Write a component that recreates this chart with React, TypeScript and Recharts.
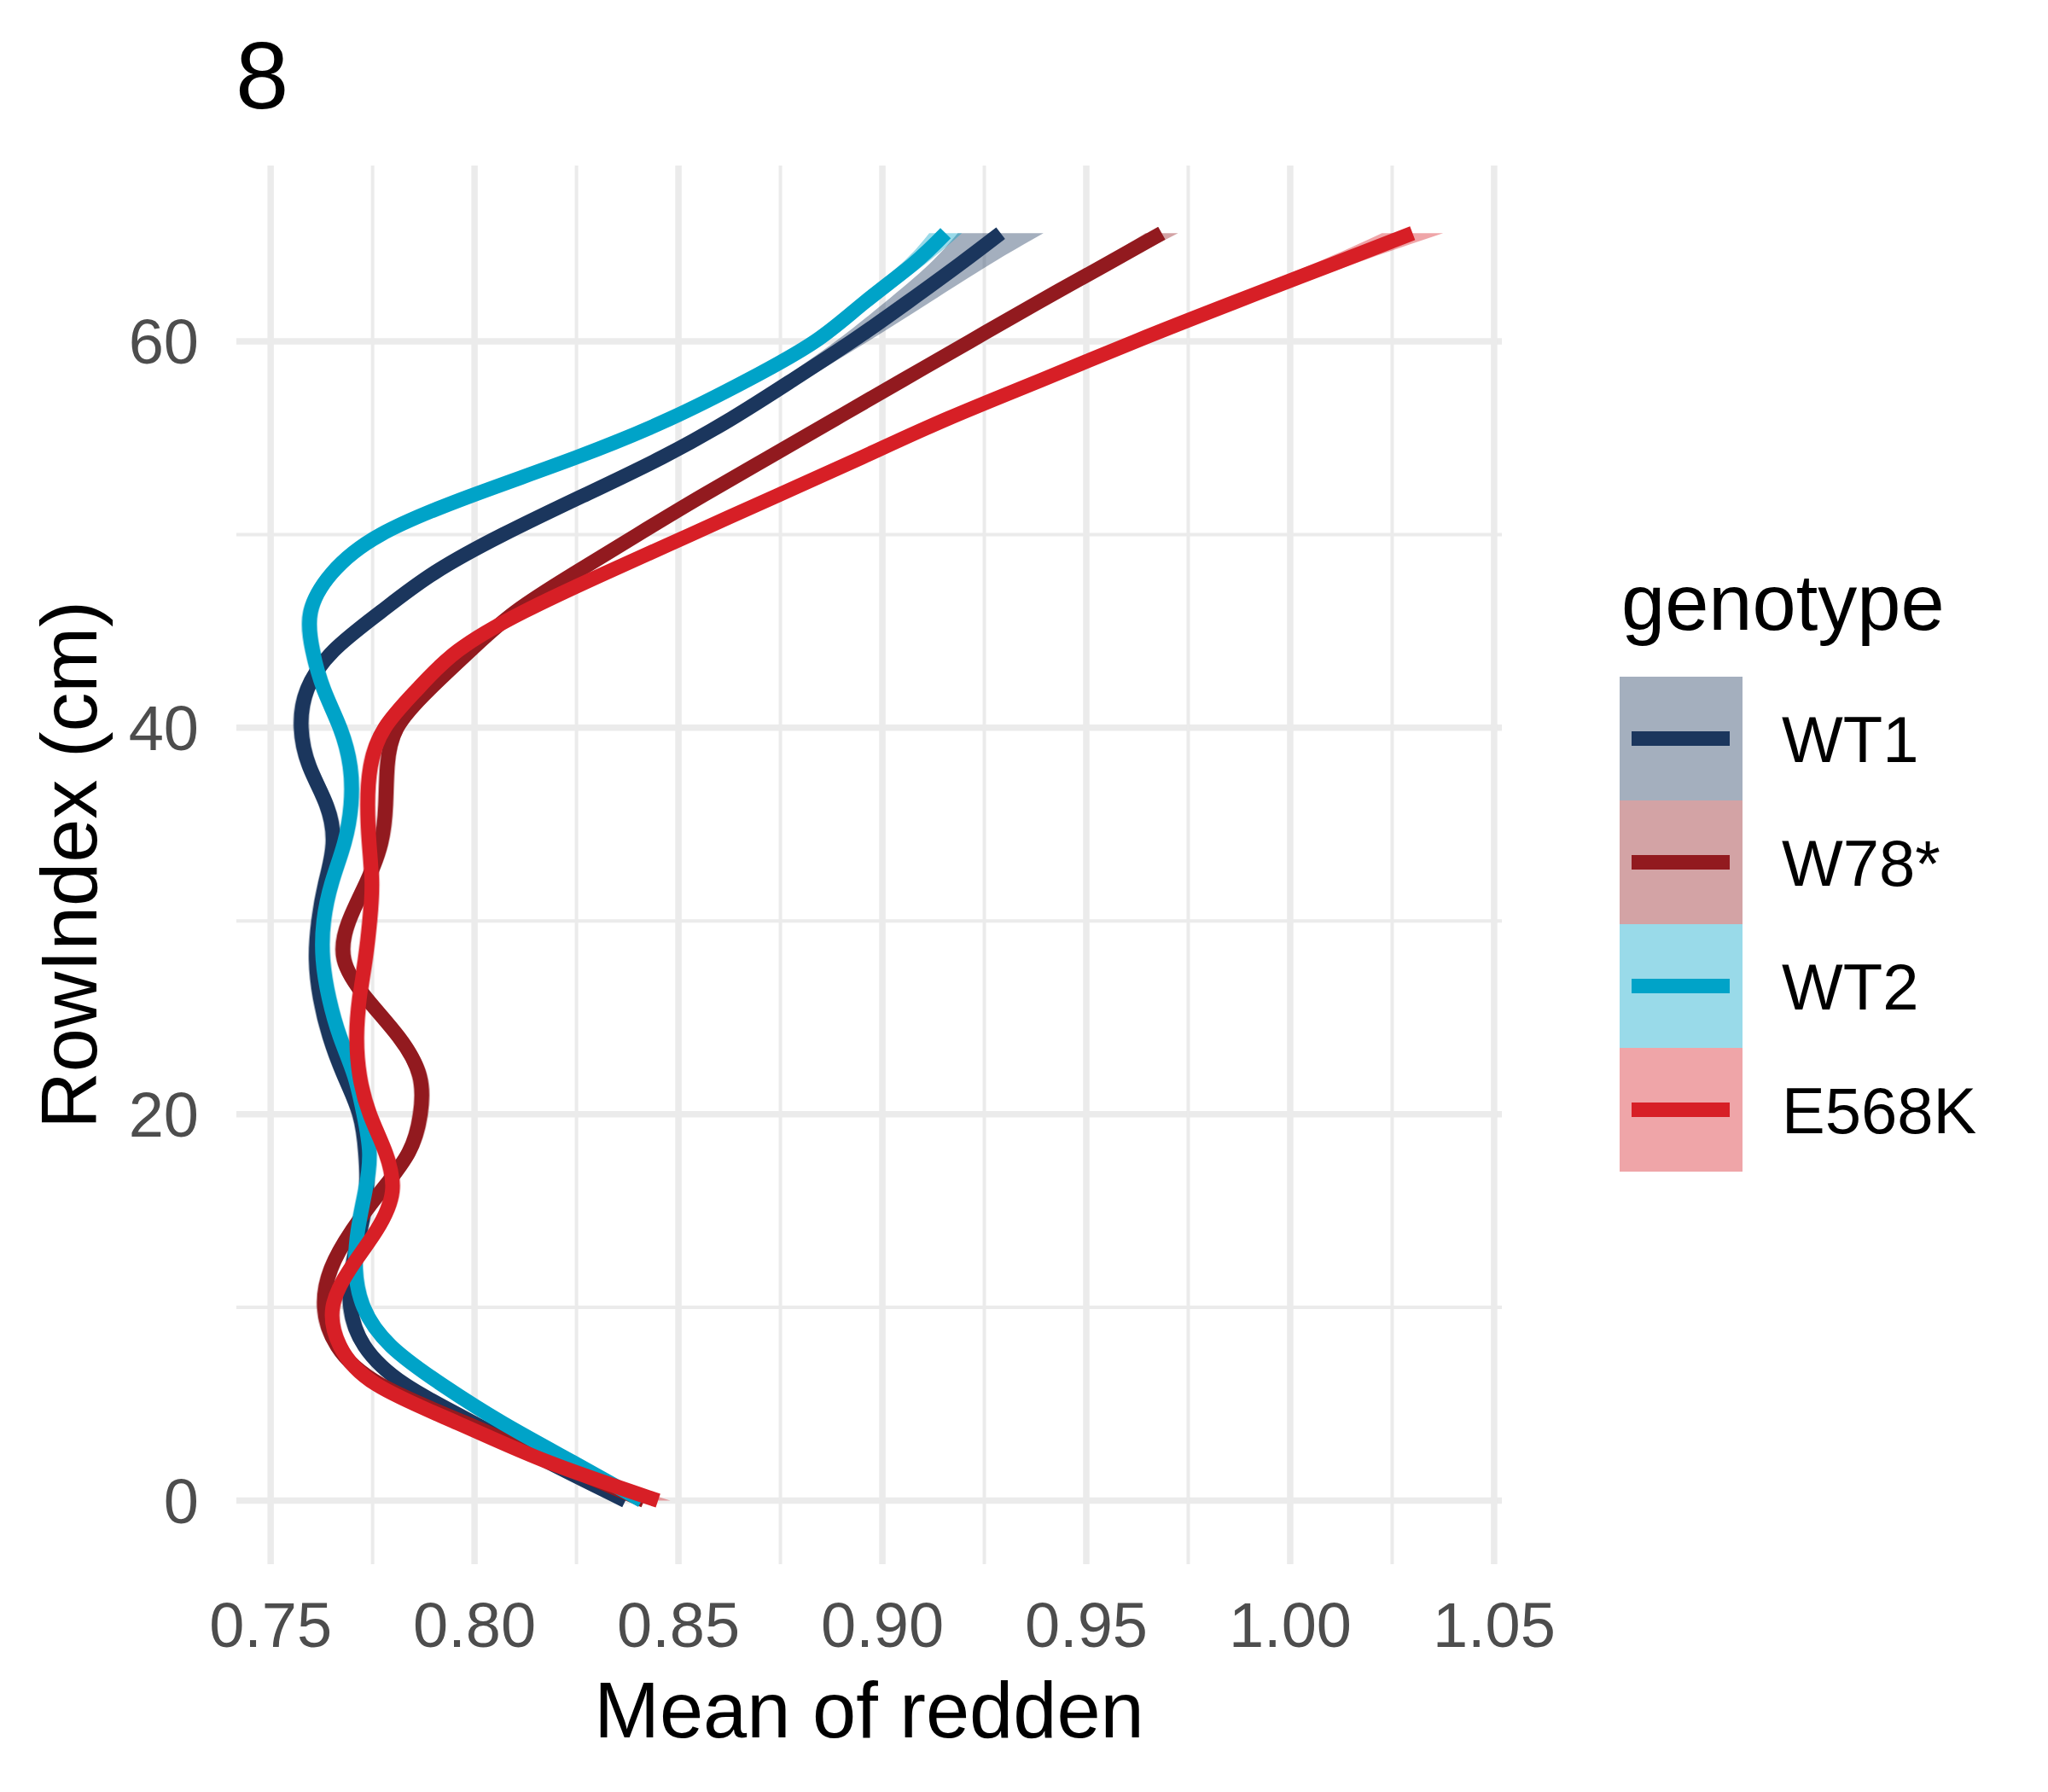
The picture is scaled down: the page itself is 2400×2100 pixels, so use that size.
import React from 'react';
import { ComposedChart, Line, Area, XAxis, YAxis, CartesianGrid, ReferenceLine, Legend } from 'recharts';

const FONT = '"Liberation Sans", Arial, sans-serif';

// RowIndex (cm) positions along the smooth
const rows = [0, 2, 4, 6, 8, 10, 12, 14, 16, 18, 20, 22, 24, 26, 28, 30, 32, 34, 36, 38, 40, 42, 44, 46, 48, 50, 52, 54, 56, 58, 60, 62, 64, 65.6];

// smoothed mean of redden per genotype
const wt1 = [0.837, 0.818, 0.8, 0.783, 0.773, 0.7696, 0.77, 0.772, 0.7735, 0.7733, 0.7718, 0.768, 0.7645, 0.7622, 0.7612, 0.7618, 0.7635, 0.7653, 0.7637, 0.7595, 0.7575, 0.759, 0.7655, 0.777, 0.79, 0.807, 0.8265, 0.846, 0.863, 0.878, 0.8925, 0.906, 0.919, 0.929];
const w78 = [0.8416, 0.8195, 0.798, 0.777, 0.7663, 0.7632, 0.7648, 0.77, 0.777, 0.7838, 0.7867, 0.7865, 0.7814, 0.7735, 0.768, 0.7692, 0.7735, 0.777, 0.7782, 0.7786, 0.781, 0.789, 0.799, 0.81, 0.8245, 0.84, 0.8558, 0.8722, 0.8886, 0.905, 0.9215, 0.938, 0.955, 0.9685];
const wt2 = [0.841, 0.824, 0.807, 0.792, 0.7795, 0.7728, 0.7708, 0.7714, 0.7732, 0.7742, 0.7728, 0.7705, 0.767, 0.7643, 0.7628, 0.763, 0.765, 0.768, 0.7697, 0.7695, 0.767, 0.763, 0.7603, 0.7598, 0.765, 0.777, 0.799, 0.825, 0.848, 0.867, 0.8835, 0.8955, 0.9075, 0.9155];
const e568 = [0.845, 0.818, 0.796, 0.776, 0.767, 0.7652, 0.7695, 0.776, 0.7798, 0.7782, 0.7743, 0.7718, 0.7711, 0.7718, 0.7732, 0.7743, 0.7748, 0.7742, 0.7738, 0.7745, 0.778, 0.786, 0.796, 0.812, 0.832, 0.853, 0.874, 0.895, 0.916, 0.939, 0.962, 0.986, 1.0105, 1.03];

// half width of the confidence band
const wt1Ci = [0.003, 0.002, 0.002, 0.002, 0.002, 0.002, 0.002, 0.002, 0.002, 0.002, 0.002, 0.002, 0.002, 0.002, 0.002, 0.002, 0.002, 0.002, 0.002, 0.002, 0.002, 0.002, 0.002, 0.002, 0.002, 0.002, 0.002, 0.002, 0.0025, 0.003, 0.004, 0.0055, 0.0075, 0.0105];
const w78Ci = [0.003, 0.002, 0.002, 0.002, 0.002, 0.002, 0.002, 0.002, 0.002, 0.002, 0.002, 0.002, 0.002, 0.002, 0.002, 0.002, 0.002, 0.002, 0.002, 0.002, 0.002, 0.002, 0.002, 0.002, 0.002, 0.002, 0.002, 0.002, 0.002, 0.002, 0.002, 0.0025, 0.003, 0.004];
const wt2Ci = [0.003, 0.002, 0.002, 0.002, 0.002, 0.002, 0.002, 0.002, 0.002, 0.002, 0.002, 0.002, 0.002, 0.002, 0.002, 0.002, 0.002, 0.002, 0.002, 0.002, 0.002, 0.002, 0.002, 0.002, 0.002, 0.002, 0.002, 0.002, 0.002, 0.002, 0.002, 0.0025, 0.003, 0.004];
const e568Ci = [0.003, 0.002, 0.002, 0.002, 0.002, 0.002, 0.002, 0.002, 0.002, 0.002, 0.002, 0.002, 0.002, 0.002, 0.002, 0.002, 0.002, 0.002, 0.002, 0.002, 0.002, 0.002, 0.002, 0.002, 0.002, 0.002, 0.002, 0.002, 0.002, 0.0025, 0.003, 0.004, 0.005, 0.0075];

const xTicks = [0.75, 0.8, 0.85, 0.9, 0.95, 1.0, 1.05];
const xMinor = [0.775, 0.825, 0.875, 0.925, 0.975, 1.025];
const yTicks = [0, 20, 40, 60];
const yMinor = [10, 30, 50];

const series = [
  { key: 'wt1', name: 'WT1', color: '#1B365D', values: wt1, ci: wt1Ci },
  { key: 'w78', name: 'W78*', color: '#921A1F', values: w78, ci: w78Ci },
  { key: 'wt2', name: 'WT2', color: '#00A3C8', values: wt2, ci: wt2Ci },
  { key: 'e568', name: 'E568K', color: '#D71F26', values: e568, ci: e568Ci },
];

const data = rows.map((row, i) => {
  const d: any = { row };
  series.forEach((s) => {
    d[s.key] = s.values[i];
    d[s.key + '_band'] = [s.values[i] - s.ci[i], s.values[i] + s.ci[i]];
  });
  return d;
});

const renderLegend = () => (
  <svg width={520} height={760} style={{ fontFamily: FONT }}>
    <text x={20} y={98} fontSize={92} fill="#000">genotype</text>
    {series.map((s, i) => {
      const top = 153 + i * 145;
      return (
        <g key={s.key}>
          <rect x={18} y={top} width={144} height={145} fill={s.color} fillOpacity={0.4} />
          <line x1={32} x2={147} y1={top + 72.5} y2={top + 72.5} stroke={s.color} strokeWidth={17} />
          <text x={208} y={top + 100} fontSize={76} fill="#000">{s.name}</text>
        </g>
      );
    })}
  </svg>
);

const YTitle = (props: any) => {
  const vb = props.viewBox || { x: 0, y: 194, width: 277, height: 1639 };
  const x = vb.x + 113;
  const y = vb.y + vb.height / 2;
  return (
    <text x={x} y={y} transform={`rotate(-90, ${x}, ${y})`} textAnchor="middle" fontSize={92} fill="#000" fontFamily={FONT}>
      RowIndex (cm)
    </text>
  );
};

const App = () => {
  return (
    <div style={{ position: 'absolute', left: 0, top: 0, width: 2400, height: 2100, background: '#fff', fontFamily: FONT }}>
      <svg width={400} height={160} style={{ position: 'absolute', left: 0, top: 0 }}>
        <text x={276} y={127} fontSize={112} fill="#000" fontFamily={FONT}>8</text>
      </svg>
      <ComposedChart
        layout="vertical"
        width={2400}
        height={2100}
        data={data}
        margin={{ top: 194, right: 640, bottom: 50, left: 0 }}
      >
        <CartesianGrid stroke="#EBEBEB" strokeWidth={7.5} syncWithTicks />
        {xMinor.map((v) => (
          <ReferenceLine key={'x' + v} x={v} stroke="#EBEBEB" strokeWidth={4} zIndex={-90} />
        ))}
        {yMinor.map((v) => (
          <ReferenceLine key={'y' + v} y={v} stroke="#EBEBEB" strokeWidth={4} zIndex={-90} />
        ))}
        <XAxis
          type="number"
          domain={[0.7416, 1.0519]}
          ticks={xTicks}
          allowDataOverflow
          height={217}
          axisLine={false}
          tickLine={false}
          tickSize={0}
          tickMargin={44}
          tickFormatter={(v: number) => v.toFixed(2)}
          tick={{ fill: '#4D4D4D', fontSize: 74, fontFamily: FONT }}
          label={{ value: 'Mean of redden', position: 'insideBottom', offset: 14, fill: '#000', fontSize: 92, fontFamily: FONT }}
        />
        <YAxis
          type="number"
          dataKey="row"
          domain={[-3.29, 69.1]}
          ticks={yTicks}
          reversed
          allowDataOverflow
          width={277}
          axisLine={false}
          tickLine={false}
          tickSize={0}
          tickMargin={44}
          tick={{ fill: '#4D4D4D', fontSize: 74, fontFamily: FONT }}
          label={{ content: YTitle }}
        />
        {series.map((s) => [
          <Area
            key={s.key + '_band'}
            type="natural"
            dataKey={s.key + '_band'}
            fill={s.color}
            fillOpacity={0.4}
            stroke="none"
            legendType="none"
            isAnimationActive={false}
          />,
          <Line
            key={s.key}
            type="natural"
            dataKey={s.key}
            name={s.name}
            stroke={s.color}
            strokeWidth={17}
            dot={false}
            activeDot={false}
            isAnimationActive={false}
          />,
        ])}
        <Legend
          layout="vertical"
          align="center"
          verticalAlign="middle"
          content={renderLegend}
          wrapperStyle={{ left: 1880, top: 640, width: 520, height: 760 }}
        />
      </ComposedChart>
    </div>
  );
};

export default App;
